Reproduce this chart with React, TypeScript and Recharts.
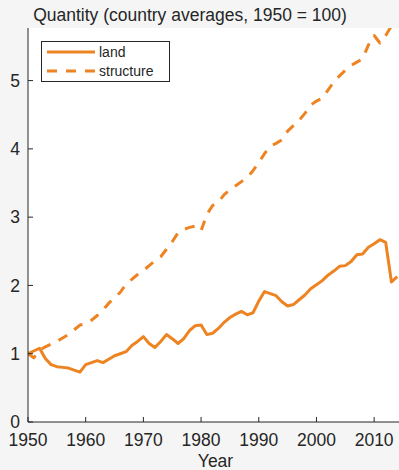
import React from 'react';
import { LineChart, Line, XAxis, YAxis, CartesianGrid, Legend } from 'recharts';

const years = [
  1950, 1951, 1952, 1953, 1954, 1955, 1956, 1957, 1958, 1959,
  1960, 1961, 1962, 1963, 1964, 1965, 1966, 1967, 1968, 1969,
  1970, 1971, 1972, 1973, 1974, 1975, 1976, 1977, 1978, 1979,
  1980, 1981, 1982, 1983, 1984, 1985, 1986, 1987, 1988, 1989,
  1990, 1991, 1992, 1993, 1994, 1995, 1996, 1997, 1998, 1999,
  2000, 2001, 2002, 2003, 2004, 2005, 2006, 2007, 2008, 2009,
  2010, 2011, 2012, 2013, 2014,
];

const land = [
  1.0, 1.04, 1.08, 0.93, 0.84, 0.81, 0.8, 0.79, 0.76, 0.73,
  0.84, 0.87, 0.9, 0.87, 0.92, 0.97, 1.0, 1.03, 1.12, 1.18,
  1.25, 1.15, 1.09, 1.18, 1.28, 1.22, 1.15, 1.22, 1.34, 1.41,
  1.42, 1.28, 1.3, 1.37, 1.46, 1.53, 1.58, 1.62, 1.57, 1.6,
  1.77, 1.91, 1.88, 1.85, 1.76, 1.7, 1.72, 1.79, 1.86, 1.95,
  2.01, 2.07, 2.15, 2.21, 2.28, 2.29, 2.35, 2.45, 2.46, 2.56,
  2.61, 2.67, 2.63, 2.05, 2.13,
];

const structure = [
  1.0, 0.94, 1.05, 1.1, 1.14, 1.18, 1.23, 1.28, 1.35, 1.42,
  1.44, 1.49, 1.56, 1.64, 1.74, 1.82, 1.9, 2.02, 2.09, 2.16,
  2.22, 2.29, 2.36, 2.42, 2.53, 2.64, 2.77, 2.82, 2.85, 2.87,
  2.8, 3.04, 3.17, 3.22, 3.33, 3.4, 3.46, 3.52, 3.58, 3.68,
  3.8, 3.93, 4.04, 4.08, 4.13, 4.26, 4.34, 4.42, 4.52, 4.64,
  4.7, 4.74, 4.86, 4.98, 5.07, 5.15, 5.22, 5.27, 5.32, 5.52,
  5.66, 5.55, 5.66, 5.8, 5.85,
];

const xTicks = [1950, 1960, 1970, 1980, 1990, 2000, 2010];
const yTicks = [0, 1, 2, 3, 4, 5];
const titleText = 'Quantity (country averages, 1950 = 100)';
const xLabelText = 'Year';
const seriesNames = ['land', 'structure'];

const data = years.map((y, i) => ({ year: y, land: land[i], structure: structure[i] }));

const ORANGE = '#EE8322';
const AXIS = '#262626';
const FONT = '"Liberation Sans", Arial, Helvetica, sans-serif';
const DASH = '10 9';

const renderLegend = () => (
  <div
    style={{
      width: 129,
      height: 41,
      background: '#ffffff',
      border: `1px solid ${AXIS}`,
      boxSizing: 'border-box',
      position: 'relative',
    }}
  >
    <svg width={127} height={39} style={{ position: 'absolute', left: 0, top: 0 }}>
      <line x1={5} x2={53} y1={10} y2={10} stroke={ORANGE} strokeWidth={3} />
      <text x={57} y={15.3} fontSize={14} fill={AXIS} fontFamily={FONT}>
        {seriesNames[0]}
      </text>
      <line x1={5} x2={53} y1={29} y2={29} stroke={ORANGE} strokeWidth={3} strokeDasharray={DASH} />
      <text x={57} y={34} fontSize={14} fill={AXIS} fontFamily={FONT}>
        {seriesNames[1]}
      </text>
    </svg>
  </div>
);

export default function App() {
  const tickStyle = { fill: AXIS, fontSize: 17.5, fontFamily: FONT };
  return (
    <div
      style={{
        position: 'fixed',
        left: 0,
        top: 0,
        width: 399,
        height: 470,
        overflow: 'hidden',
        background: '#f5f5f5',
        fontFamily: FONT,
      }}
    >
      <LineChart
        width={403}
        height={470}
        data={data}
        margin={{ top: 28, right: 0, bottom: 0, left: 0 }}
        style={{ fontFamily: FONT }}
      >
        <CartesianGrid horizontal={false} vertical={false} fill="#ffffff" />
        <XAxis
          dataKey="year"
          type="number"
          domain={[1950, 2015]}
          ticks={xTicks}
          interval={0}
          allowDataOverflow
          height={48}
          axisLine={{ stroke: AXIS }}
          tickLine={{ stroke: AXIS }}
          tickSize={-5}
          tickMargin={17}
          tick={tickStyle}
          label={{
            value: xLabelText,
            position: 'insideBottom',
            offset: 3,
            fill: AXIS,
            fontSize: 17.5,
            fontFamily: FONT,
          }}
        />
        <XAxis
          xAxisId="top"
          orientation="top"
          dataKey="year"
          type="number"
          domain={[1950, 2015]}
          ticks={xTicks}
          interval={0}
          allowDataOverflow
          height={0}
          axisLine={{ stroke: AXIS }}
          tickLine={{ stroke: AXIS }}
          tickSize={-5}
          tick={false}
        />
        <YAxis
          type="number"
          domain={[0, 5.77]}
          ticks={yTicks}
          interval={0}
          allowDataOverflow
          width={28}
          axisLine={{ stroke: AXIS }}
          tickLine={{ stroke: AXIS }}
          tickSize={-5}
          tickMargin={13}
          tick={tickStyle}
        />
        <Line
          dataKey="land"
          name={seriesNames[0]}
          type="linear"
          stroke={ORANGE}
          strokeWidth={3}
          dot={false}
          activeDot={false}
          strokeLinejoin="round"
          isAnimationActive={false}
        />
        <Line
          dataKey="structure"
          name={seriesNames[1]}
          type="linear"
          stroke={ORANGE}
          strokeWidth={3}
          strokeDasharray={DASH}
          dot={false}
          activeDot={false}
          strokeLinejoin="round"
          isAnimationActive={false}
        />
        <Legend
          content={renderLegend}
          layout="horizontal"
          verticalAlign="middle"
          align="center"
          wrapperStyle={{ position: 'absolute', left: 41, top: 41, width: 129, height: 41 }}
        />
      </LineChart>
      <svg
        width={399}
        height={28}
        style={{ position: 'absolute', left: 0, top: 0, pointerEvents: 'none' }}
      >
        <text x={190} y={21} textAnchor="middle" fontSize={17.5} fill={AXIS} fontFamily={FONT}>
          {titleText}
        </text>
      </svg>
    </div>
  );
}
